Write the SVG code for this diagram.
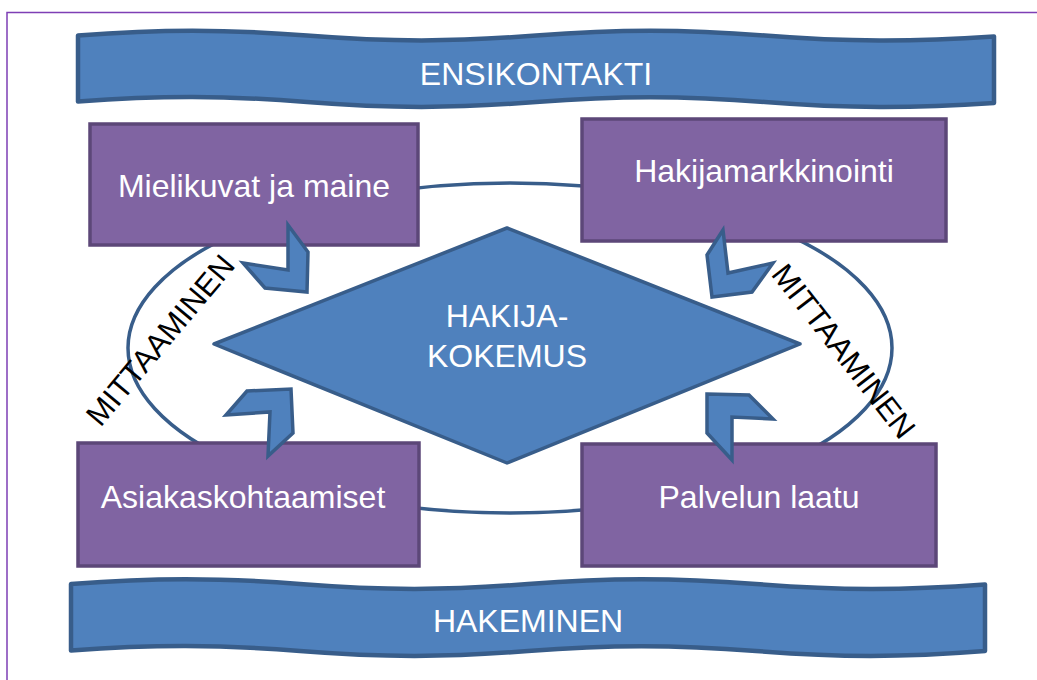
<svg xmlns="http://www.w3.org/2000/svg" width="1037" height="680" viewBox="0 0 1037 680">
  <style>
    .banner { fill: #4F81BD; stroke: #385D8A; stroke-width: 4.5; stroke-linejoin: round; }
    .box { fill: #8064A2; stroke: #5C4778; stroke-width: 3.5; }
    .diamond { fill: #4F81BD; stroke: #385D8A; stroke-width: 3.5; stroke-linejoin: round; }
    .chev { fill: #4F81BD; stroke: #385D8A; stroke-width: 3.5; stroke-linejoin: miter; }
    .ring { fill: none; stroke: #385D8A; stroke-width: 3.5; }
    .wt { font-family: "Liberation Sans", Arial, sans-serif; font-size: 32px; fill: #FFFFFF; text-anchor: middle; }
    .bt { font-family: "Liberation Sans", Arial, sans-serif; font-size: 31px; fill: #000000; text-anchor: middle; }
    .frame { fill: none; stroke: #7E3FB5; stroke-width: 1.5; }
  </style>
  <rect width="1037" height="680" fill="#FFFFFF"/>
  <path class="frame" d="M7,680 L7,12.5 L1037,12.5"/>

  <g id="connectors">
    <ellipse class="ring" cx="510" cy="348" rx="382" ry="165"/>
  </g>

  <g id="ensikontakti">
    <path class="banner" d="M78,35.5 C160,29 225,29 307,35.5 C389,42 454,42 536,35.5 C618,29 683,29 765,35.5 C847,42 912,42 994,36.5 L994,103 C912,108.5 847,108.5 765,102 C683,95.5 618,95.5 536,102 C454,108.5 389,108.5 307,102 C225,95.5 160,95.5 78,101.5 Z"/>
    <text class="wt" x="536" y="85">ENSIKONTAKTI</text>
  </g>

  <g id="hakeminen">
    <path class="banner" d="M71,584 C153,577.5 218,577.5 300,584 C382,590.5 447,590.5 528,584 C609,577.5 674,577.5 756,584 C838,590.5 903,590.5 985,584.5 L985,651 C903,657.5 838,657.5 756,651 C674,644.5 609,644.5 528,651 C447,657.5 382,657.5 300,651 C218,644.5 153,644.5 71,650.5 Z"/>
    <text class="wt" x="528" y="631.5">HAKEMINEN</text>
  </g>

  <g id="hakijakokemus">
    <polygon class="diamond" points="507,228 800,344 507,463 214,344"/>
    <text class="wt" x="507" y="326.5">HAKIJA-</text>
    <text class="wt" x="507" y="366.5">KOKEMUS</text>
  </g>

  <g id="mielikuvat">
    <rect class="box" x="90" y="124" width="328" height="121"/>
    <text class="wt" x="254" y="196.5">Mielikuvat ja maine</text>
  </g>

  <g id="hakijamarkkinointi">
    <rect class="box" x="582" y="119" width="364" height="122"/>
    <text class="wt" x="764" y="182">Hakijamarkkinointi</text>
  </g>

  <g id="asiakaskohtaamiset">
    <rect class="box" x="78" y="443" width="341" height="123"/>
    <text class="wt" x="243" y="508">Asiakaskohtaamiset</text>
  </g>

  <g id="palvelun-laatu">
    <rect class="box" x="582" y="444" width="354" height="122"/>
    <text class="wt" x="759" y="508">Palvelun laatu</text>
  </g>

  <g id="chevrons">
    <polygon class="chev" points="288,225 308,252 307,292 265,288 243,263 288,270"/>
    <polygon class="chev" points="247,391 291,389 293,433 268,456 270,412 226,415"/>
    <polygon class="chev" points="723,230 707,255 712,297 752,292 773,263 728,273"/>
    <polygon class="chev" points="707,394 749,395 773,419 732,417 732,460 707,433"/>
  </g>

  <g id="mittaaminen-left">
    <text class="bt" transform="translate(160,340) rotate(-50)" x="0" y="11">MITTAAMINEN</text>
  </g>
  <g id="mittaaminen-right">
    <text class="bt" transform="translate(844,351) rotate(52)" x="0" y="11">MITTAAMINEN</text>
  </g>
</svg>
